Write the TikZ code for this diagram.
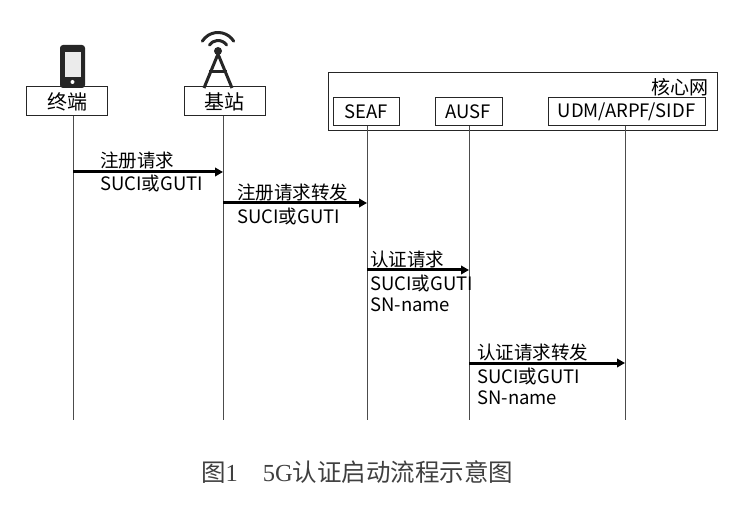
\documentclass[tikz,border=0pt]{standalone}
\usepackage{fontspec}
\setmainfont{Noto Sans CJK SC}
\newfontfamily\capfont{Noto Sans CJK SC}
\newfontfamily\capserif{Liberation Serif}
\usetikzlibrary{arrows.meta}
\begin{document}
\begin{tikzpicture}[x=1pt,y=1pt,
  actor/.style={draw=black!85,line width=1pt,rectangle,minimum height=29pt,inner sep=0pt,font=\fontsize{20}{22}\selectfont},
  nf/.style={draw=black!85,line width=1pt,rectangle,minimum height=28pt,inner sep=0pt,font=\fontsize{18.5}{20}\selectfont},
  life/.style={draw=black!70,line width=0.8pt},
  msg/.style={line width=3pt,-{Triangle[length=8pt,width=8.5pt]}},
  lbl/.style={anchor=west,inner sep=0pt,font=\fontsize{18.5}{20}\selectfont}]
\useasboundingbox (0,0) rectangle (741,-510);
% phone icon
\fill[black!85,rounded corners=3pt] (60,-45) rectangle (85,-88);
\fill[black!8] (64.5,-52) rectangle (80.5,-77);
\fill[white] (72.5,-82) circle (2pt);
% tower icon
\begin{scope}[line width=3pt,black!85]
\draw (204,-88) -- (218,-54) -- (232,-88);
\draw (209,-72) -- (227,-72);
\fill (218,-51) circle (4pt);
\draw[line cap=round] (218,-51) ++(35:10.5) arc (35:145:10.5);
\draw[line cap=round] (218,-51) ++(32:18.5) arc (32:148:18.5);
\end{scope}
% actors
\node[actor,minimum width=81pt] (term) at (67,-101.5) {终端};
\node[actor,minimum width=81pt] (bs) at (224.5,-101.5) {基站};
\node[draw=black!85,line width=1pt,rectangle,minimum width=389pt,minimum height=58pt,inner sep=0pt] (core) at (522.5,-102) {};
\node[anchor=east,inner sep=0pt,font=\fontsize{19}{21}\selectfont] (coretxt) at (709,-87) {核心网};
\node[nf,minimum width=66pt] (seaf) at (366,-111.5) {SEAF};
\node[nf,minimum width=67pt] (ausf) at (468.5,-111.5) {AUSF};
\node[nf,minimum width=157pt] (udm) at (626.5,-111.5) {UDM/ARPF/SIDF};
% lifeline ends
\coordinate (tE) at (73,-420);
\coordinate (bE) at (223,-420);
\coordinate (sE) at (367,-420);
\coordinate (aE) at (469,-420);
\coordinate (uE) at (625,-420);
\draw[life] (term.south -| tE) -- (tE);
\draw[life] (bs.south -| bE) -- (bE);
\draw[life] (seaf.south -| sE) -- (sE);
\draw[life] (ausf.south -| aE) -- (aE);
\draw[life] (udm.south -| uE) -- (uE);
% message points
\coordinate (m1s) at (73,-172);  \coordinate (m1e) at (223,-172);
\coordinate (m2s) at (223,-203); \coordinate (m2e) at (367,-203);
\coordinate (m3s) at (367,-270); \coordinate (m3e) at (469,-270);
\coordinate (m4s) at (469,-363); \coordinate (m4e) at (625,-363);
\draw[msg] (m1s) -- (m1e);
\draw[msg] (m2s) -- (m2e);
\draw[msg] (m3s) -- (m3e);
\draw[msg] (m4s) -- (m4e);
% labels
\node[lbl] (l1a) at (100,-160) {注册请求};
\node[lbl] (l1b) at (100,-184) {SUCI或GUTI};
\node[lbl] (l2a) at (237,-192) {注册请求转发};
\node[lbl] (l2b) at (237,-216) {SUCI或GUTI};
\node[lbl] (l3a) at (370,-259) {认证请求};
\node[lbl] (l3b) at (370,-283) {SUCI或GUTI};
\node[lbl] (l3c) at (370,-305) {SN-name};
\node[lbl] (l4a) at (477,-352) {认证请求转发};
\node[lbl] (l4b) at (477,-376) {SUCI或GUTI};
\node[lbl] (l4c) at (477,-398) {SN-name};
% caption
\node[anchor=west,inner sep=0pt,text=black!75,font=\fontsize{24.5}{27}\selectfont] (cap) at (201,-472)
  {\capfont 图{\capserif 1}\hspace{25pt}{\capserif 5G}认证启动流程示意图};
\end{tikzpicture}
\end{document}
